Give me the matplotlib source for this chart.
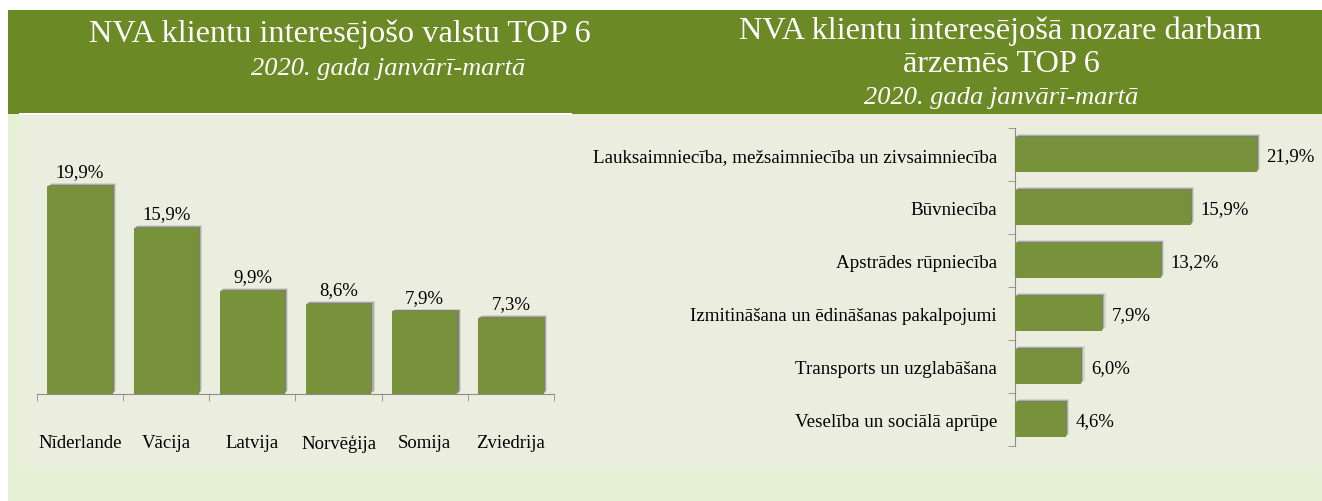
import matplotlib
matplotlib.use("Agg")
from matplotlib import pyplot as plt
from matplotlib import patheffects as pe
from matplotlib.patches import Rectangle
import numpy as np

countries = ["Nīderlande", "Vācija", "Latvija", "Norvēģija", "Somija", "Zviedrija"]
country_share = [19.9, 15.9, 9.9, 8.6, 7.9, 7.3]

sectors = ["Lauksaimniecība, mežsaimniecība un zivsaimniecība", "Būvniecība",
           "Apstrādes rūpniecība", "Izmitināšana un ēdināšanas pakalpojumi",
           "Transports un uzglabāšana", "Veselība un sociālā aprūpe"]
sector_share = [21.9, 15.9, 13.2, 7.9, 6.0, 4.6]

HEADER = "#6b8925"
BAR = "#77923b"
PANEL = "#ebeedf"
OUTER = "#e6f0d5"
AXIS = "#8c8c8c"

plt.rcParams["font.family"] = ["Liberation Serif", "DejaVu Serif"]

W, H = 1322, 502
fig = plt.figure(figsize=(W / 100, H / 100), dpi=100, facecolor="white")


def px_rect(x0, y0, x1, y1, color, z=-5):
    # rectangle in pixel coords (top-left origin) -> figure fraction
    fig.patches.append(Rectangle((x0 / W, 1 - y1 / H), (x1 - x0) / W, (y1 - y0) / H,
                                 transform=fig.transFigure, facecolor=color,
                                 edgecolor="none", zorder=z))


px_rect(8, 11, W + 5, H + 5, OUTER, -5)
px_rect(8, 11, W + 5, 115, HEADER, -4)
px_rect(19, 115, W + 5, 467, PANEL, -4)
px_rect(19, 114, 572, 116, "white", -3)


def fig_text(x, y, s, **kw):
    fig.text(x / W, 1 - y / H, s, ha="center", va="center", color="white", **kw)


fig_text(340, 34, "NVA klientu interesējošo valstu TOP 6", fontsize=23.3)
fig_text(388, 69, "2020. gada janvārī-martā", fontsize=19, style="italic")
fig_text(1000, 31, "NVA klientu interesējošā nozare darbam", fontsize=23.3)
fig_text(1001, 65, "ārzemēs TOP 6", fontsize=23.3)
fig_text(1001, 98, "2020. gada janvārī-martā", fontsize=19, style="italic")

# soft shadow, up and to the right like the original
shadow = [pe.SimplePatchShadow(offset=(2.4, 2.0), shadow_rgbFace="black", alpha=0.10),
          pe.SimplePatchShadow(offset=(1.6, 1.3), shadow_rgbFace="black", alpha=0.18),
          pe.SimplePatchShadow(offset=(0.8, 0.7), shadow_rgbFace="black", alpha=0.28),
          pe.Normal()]

# left chart: countries
ax1 = fig.add_axes([37 / W, 1 - 395 / H, 517 / W, 255 / H])
ax1.set_zorder(2)
ax1.set_facecolor("none")
x = np.arange(len(countries))
bars = ax1.bar(x, country_share, width=0.76, color=BAR, zorder=3)
for b in bars:
    b.set_path_effects(shadow)
for xi, v in zip(x, country_share):
    ax1.annotate(f"{v:.1f}%".replace(".", ","), (xi, v), xytext=(0, 4),
                 textcoords="offset points", ha="center", va="bottom", fontsize=13.5)
ax1.set_xlim(-0.5, len(countries) - 0.5)
ax1.set_ylim(0, 24.4)
ax1.set_yticks([])
for s in ["top", "right", "left"]:
    ax1.spines[s].set_visible(False)
ax1.spines["bottom"].set_color(AXIS)
ax1.set_xticks(x)
ax1.set_xticklabels(countries, fontsize=13.5)
ax1.tick_params(axis="x", which="major", length=0, pad=29)
ax1.set_xticks(np.arange(len(countries) + 1) - 0.5, minor=True)
ax1.tick_params(axis="x", which="minor", length=5, color=AXIS)

# right chart: sectors
ax2 = fig.add_axes([1015 / W, 1 - 447 / H, (W - 1015) / W, 318 / H])
ax2.set_zorder(2)
ax2.set_facecolor("none")
y = np.arange(len(sectors))
hbars = ax2.barh(y, sector_share, height=0.66, color=BAR, zorder=3)
for b in hbars:
    b.set_path_effects(shadow)
for yi, v in zip(y, sector_share):
    ax2.annotate(f"{v:.1f}%".replace(".", ","), (v, yi), xytext=(7, -1),
                 textcoords="offset points", ha="left", va="center", fontsize=13.5)
ax2.set_ylim(len(sectors) - 0.5, -0.5)
ax2.set_xlim(0, 27.8)
ax2.set_xticks([])
for s in ["top", "right", "bottom"]:
    ax2.spines[s].set_visible(False)
ax2.spines["left"].set_color(AXIS)
ax2.set_yticks(y)
ax2.set_yticklabels(sectors, fontsize=13.7)
ax2.tick_params(axis="y", which="major", length=0, pad=13)
ax2.set_yticks(np.arange(len(sectors) + 1) - 0.5, minor=True)
ax2.tick_params(axis="y", which="minor", length=5, color=AXIS)

fig.savefig("out.png", dpi=100, facecolor="white")
